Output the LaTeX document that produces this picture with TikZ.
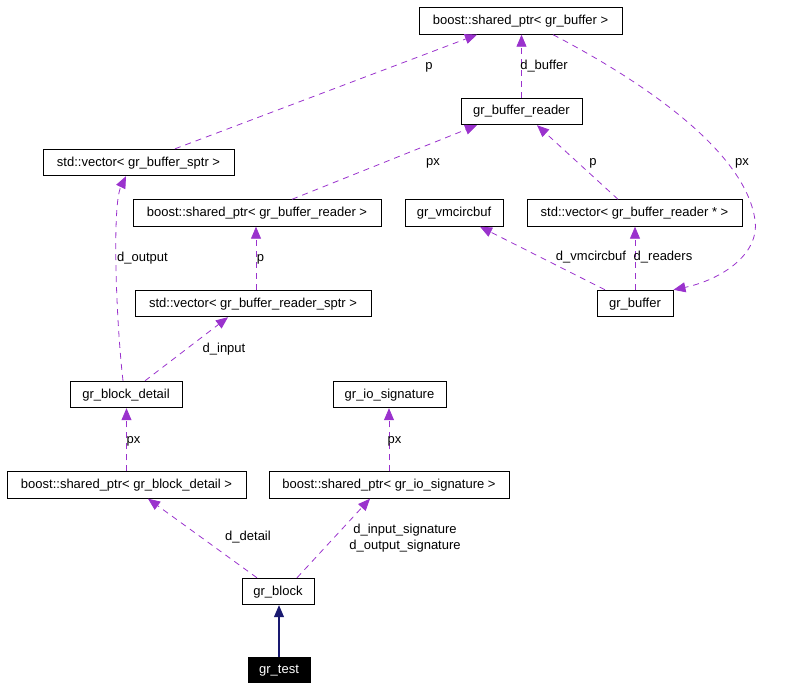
\documentclass[tikz,border=0pt]{standalone}
\usepackage{fontspec}
\setmainfont{Liberation Sans}
\usetikzlibrary{arrows.meta}
\definecolor{collab}{HTML}{9A32CD}
\definecolor{inherit}{HTML}{191970}
\tikzset{
  box/.style={draw=black, line width=0.9pt, rectangle, inner sep=0pt, minimum height=26.5pt, text height=10pt, text depth=3pt, font=\fontsize{13}{16}\selectfont},
  lbl/.style={inner sep=0pt, text height=10pt, text depth=3pt, font=\fontsize{13}{16}\selectfont},
  lblmulti/.style={inner sep=0pt, font=\fontsize{13}{16}\selectfont, align=center},
  uses/.style={draw=collab, line width=0.8pt, dash pattern=on 6pt off 5pt, -{Triangle[length=12pt,width=10pt,fill=collab]}},
  isa/.style={draw=inherit, line width=1.1pt, -{Triangle[length=12pt,width=10pt,fill=inherit]}}
}
\begin{document}
\begin{tikzpicture}[x=1pt,y=-1pt]
\useasboundingbox (0,0) rectangle (800,690);
% nodes
\node[box, minimum width=203pt] (sbuf) at (520.5,21) {boost::shared\_ptr< gr\_buffer >};
\node[box, minimum width=121pt] (reader) at (521.5,111.5) {gr\_buffer\_reader};
\node[box, minimum width=191pt] (vsptr) at (138.5,162.5) {std::vector< gr\_buffer\_sptr >};
\node[box, minimum width=248pt] (sreader) at (257,213) {boost::shared\_ptr< gr\_buffer\_reader >};
\node[box, minimum width=98pt] (vmc) at (454,213) {gr\_vmcircbuf};
\node[box, minimum width=215pt] (vreaderp) at (634.5,213) {std::vector< gr\_buffer\_reader * >};
\node[box, minimum width=76pt] (buf) at (635,303.5) {gr\_buffer};
\node[box, minimum width=236pt] (vrsptr) at (253,303.5) {std::vector< gr\_buffer\_reader\_sptr >};
\node[box, minimum width=112pt] (detail) at (126,394.5) {gr\_block\_detail};
\node[box, minimum width=113pt] (iosig) at (389.5,394.5) {gr\_io\_signature};
\node[box, minimum width=239pt] (sdetail) at (126.5,485) {boost::shared\_ptr< gr\_block\_detail >};
\node[box, minimum width=240pt] (siosig) at (389,485) {boost::shared\_ptr< gr\_io\_signature >};
\node[box, minimum width=72pt] (block) at (278,591.5) {gr\_block};
\node[box, minimum width=62pt, minimum height=25pt, fill=black, text=white] (test) at (279,669.5) {gr\_test};
% edges
\draw[uses] ([xshift=36.5pt]vsptr.north) -- ([xshift=-43.5pt]sbuf.south);
\draw[uses] (reader.north) -- (reader.north |- sbuf.south);
\draw[uses] ([xshift=35pt]sreader.north) -- ([xshift=-44.5pt]reader.south);
\draw[uses] ([xshift=-16.5pt]vreaderp.north) -- ([xshift=15.5pt]reader.south);
\draw[uses] ([xshift=32.5pt]sbuf.south) .. controls (640,80) and (745,150) .. (755,220) .. controls (760,255) and (720,280) .. (buf.north east);
\draw[uses] ([xshift=-30pt]buf.north) -- ([xshift=26pt]vmc.south);
\draw[uses] (buf.north) -- (buf.north |- vreaderp.south);
\draw[uses] ([xshift=3pt]vrsptr.north) -- ([xshift=-1pt]sreader.south);
\draw[uses] ([xshift=-3pt]detail.north) .. controls (116,320) and (112,205) .. ([xshift=-12.5pt]vsptr.south);
\draw[uses] ([xshift=19pt]detail.north) -- ([xshift=-25pt]vrsptr.south);
\draw[uses] (sdetail.north) -- (sdetail.north |- detail.south);
\draw[uses] (siosig.north) -- (siosig.north |- iosig.south);
\draw[uses] ([xshift=-21pt]block.north) -- ([xshift=21.5pt]sdetail.south);
\draw[uses] ([xshift=19pt]block.north) -- ([xshift=-19pt]siosig.south);
\draw[isa] (test.north) -- (test.north |- block.south);
% labels
\node[lbl] (l1) at (429,66) {p};
\node[lbl] (l2) at (544,66) {d\_buffer};
\node[lbl] (l3) at (433,162) {px};
\node[lbl] (l4) at (593,162) {p};
\node[lbl] (l5) at (742,162) {px};
\node[lbl] (l6) at (591,257) {d\_vmcircbuf};
\node[lbl] (l7) at (663,257) {d\_readers};
\node[lbl] (l8) at (142.5,258) {d\_output};
\node[lbl] (l9) at (260.5,258) {p};
\node[lbl] (l10) at (224,348.5) {d\_input};
\node[lbl] (l11) at (133.5,440) {px};
\node[lbl] (l12) at (394.5,440) {px};
\node[lbl] (l13) at (248,537) {d\_detail};
\node[lblmulti] (l14) at (405,538) {d\_input\_signature\\d\_output\_signature};
\end{tikzpicture}
\end{document}
